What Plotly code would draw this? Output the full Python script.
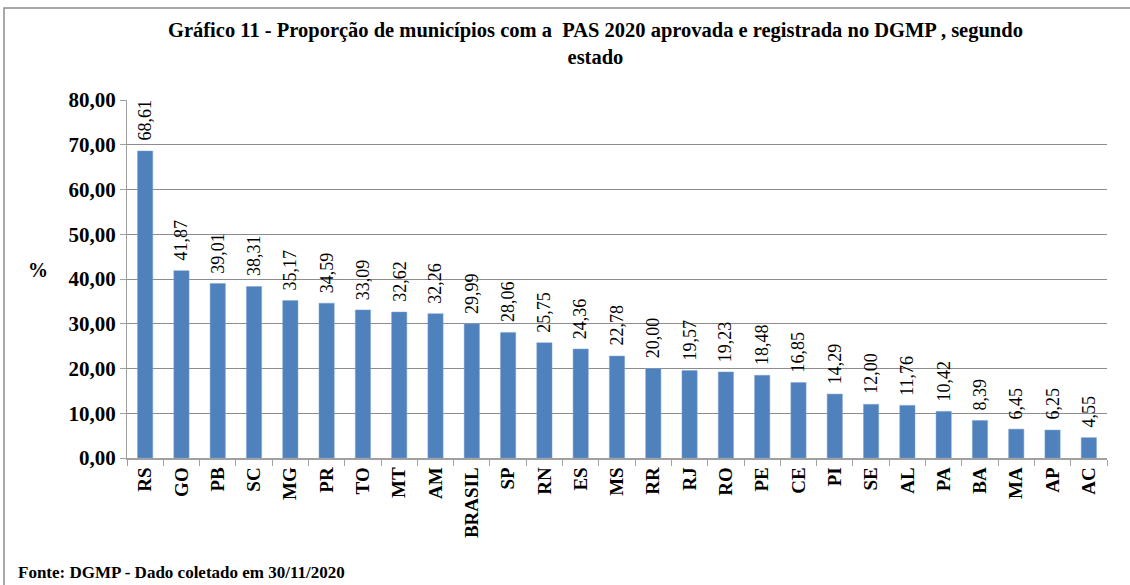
import plotly.graph_objects as go

estados = ['RS', 'GO', 'PB', 'SC', 'MG', 'PR', 'TO', 'MT', 'AM', 'BRASIL', 'SP', 'RN', 'ES', 'MS',
           'RR', 'RJ', 'RO', 'PE', 'CE', 'PI', 'SE', 'AL', 'PA', 'BA', 'MA', 'AP', 'AC']
proporcao = [68.61, 41.87, 39.01, 38.31, 35.17, 34.59, 33.09, 32.62, 32.26, 29.99, 28.06, 25.75, 24.36,
             22.78, 20.00, 19.57, 19.23, 18.48, 16.85, 14.29, 12.00, 11.76, 10.42, 8.39, 6.45, 6.25, 4.55]

FONT = "Liberation Serif"

# plot area in pixels: left 127, right 1107, top 100, bottom 458
W, H = 1130, 585
L, R, T, B = 127, 1107, 100, 458


def px_x(p):
    return (p - L) / (R - L)


def px_y(p):
    return (B - p) / (B - T)


fig = go.Figure(go.Bar(
    x=estados,
    y=proporcao,
    marker=dict(color='#4F81BD', line=dict(color='#7FA3D0', width=0.5)),
))

# value labels above the bars, rotated, with a small gap like the original
for est, v in zip(estados, proporcao):
    fig.add_annotation(
        x=est, y=v, text="{:.2f}".format(v).replace('.', ','),
        textangle=-90, yanchor='bottom', yshift=8, showarrow=False,
        font=dict(family=FONT, size=18, color='black'),
    )

fig.update_xaxes(
    showline=True, linecolor='#A0A0A0', linewidth=1.5,
    ticks='outside', tickson='boundaries', ticklen=6, tickcolor='#A0A0A0',
    tickangle=-90,
    tickfont=dict(family=FONT, size=19, color='black', weight='bold'),
)
fig.update_yaxes(
    range=[0, 80], dtick=10, tickformat='.2f',
    showline=True, linecolor='#A0A0A0', linewidth=1,
    ticks='outside', ticklen=6, tickcolor='#A0A0A0',
    showgrid=True, gridcolor='#8C8C8C', gridwidth=1,
    tickfont=dict(family=FONT, size=21, color='black', weight='bold'),
    zeroline=False,
)

fig.add_shape(type='rect', xref='paper', yref='paper',
              x0=px_x(4), x1=px_x(1140), y0=px_y(8), y1=px_y(600),
              line=dict(color='#8C8C8C', width=1.5))

fig.add_annotation(
    xref='paper', yref='paper', x=px_x(595), y=px_y(44), yanchor='middle',
    text='Gráfico 11 - Proporção de municípios com a  PAS 2020 aprovada e registrada no DGMP , segundo<br>estado',
    showarrow=False, font=dict(family=FONT, size=20.5, color='black', weight='bold'),
    align='center',
)
fig.add_annotation(
    xref='paper', yref='paper', x=px_x(26), y=px_y(270), yanchor='middle',
    text='%', showarrow=False, font=dict(family=FONT, size=20, color='black', weight='bold'),
)
fig.add_annotation(
    xref='paper', yref='paper', x=px_x(16), y=px_y(572), xanchor='left', yanchor='middle',
    text='Fonte: DGMP - Dado coletado em 30/11/2020',
    showarrow=False, font=dict(family=FONT, size=17, color='black', weight='bold'),
)

fig.update_layout(
    width=W, height=H,
    margin=dict(l=L, r=W - R, t=T, b=H - B),
    plot_bgcolor='white', paper_bgcolor='white',
    bargap=0.58, separators=',.',
    showlegend=False,
)

fig.write_html("out.html", config={'displayModeBar': False},
               post_script="document.body.style.margin='0';")
